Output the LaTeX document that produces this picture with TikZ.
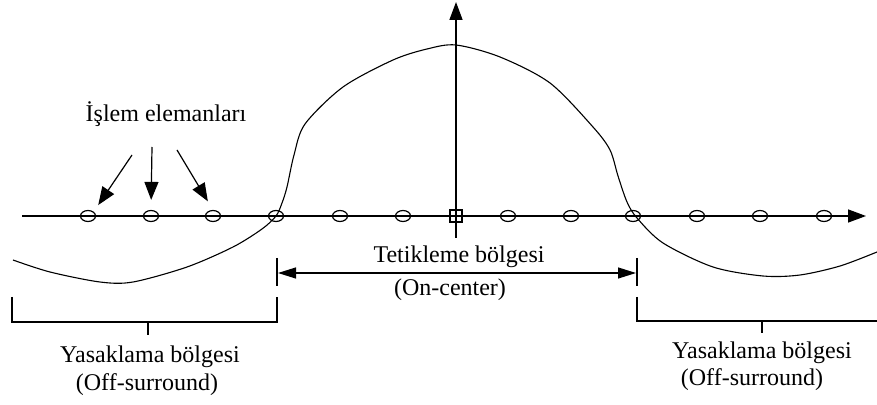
\documentclass[tikz,border=0pt]{standalone}
\usepackage{fontspec}
\setmainfont{Liberation Serif}
\usetikzlibrary{arrows.meta,shapes.geometric}
\tikzset{
  px/.style={x=0.5pt,y=-0.5pt},
  axisline/.style={line width=0.75pt},
  curveline/.style={line width=0.55pt},
  elem/.style={draw,ellipse,line width=0.6pt,minimum width=7.5pt,minimum height=5.5pt,inner sep=0pt},
  celem/.style={draw,rectangle,line width=0.6pt,minimum width=6pt,minimum height=6pt,inner sep=0pt},
  lbl/.style={inner sep=0pt,font=\fontsize{12}{14}\selectfont},
  bigtip/.style={-{Triangle[length=9pt,width=6.5pt]}},
  ptr/.style={line width=0.6pt,-{Triangle[length=9pt,width=7pt]}},
  dbl/.style={line width=0.6pt,{Triangle[length=9pt,width=5.5pt]}-{Triangle[length=9pt,width=5.5pt]}},
  brk/.style={line width=0.6pt}
}
\begin{document}
\begin{tikzpicture}[px]
\useasboundingbox (0,0) rectangle (877,405);
% axes
\coordinate (xs) at (22,216);
\coordinate (xe) at (866,216);
\coordinate (ys) at (456,238);
\coordinate (ye) at (456,2);
\draw[axisline,bigtip] (xs) -- (xe);
\draw[axisline,bigtip] (ys) -- (ye);
% curve
\draw[curveline] plot[smooth,tension=0.5] coordinates {
 (13,260) (50,272) (100,282) (133,282) (187,267) (233,247) (262,229) (276,216)
 (282,203) (287,187) (294,155) (305,124) (343,87) (393,60) (427,49) (456,45)
 (500,57) (550,83) (593,127) (610,150) (618,176) (627,202) (637,218) (663,243)
 (713,267) (763,276) (800,275) (840,266) (877,252)};
% processing elements
\foreach \i/\x in {1/88,2/151,3/213,4/276,5/340,6/403,8/508,9/571,10/633,11/697,12/760,13/824}
  \node[elem] (c\i) at (\x,216) {};
\node[celem] (c7) at (456,216) {};
% label and pointers
\node[lbl] (ie) at (166,114) {İşlem elemanları};
\coordinate (p1) at (132,155);
\coordinate (p2) at (152,147);
\coordinate (p3) at (177,150);
\draw[ptr,shorten >=4pt] (p1) -- (c1.north east);
\draw[ptr,shorten >=5pt] (p2) -- (c2.north);
\draw[ptr,shorten >=5pt] (p3) -- (c3.north);
% on-center range
\coordinate (tl1) at (277,258);
\coordinate (tl2) at (277,286);
\coordinate (tr1) at (637,258);
\coordinate (tr2) at (637,286);
\coordinate (al) at (278,273);
\coordinate (ar) at (636,273);
\draw[brk] (tl1) -- (tl2);
\draw[brk] (tr1) -- (tr2);
\draw[dbl] (al) -- (ar);
\node[lbl] (tb) at (459,257) {Tetikleme bölgesi};
\node[lbl] (oc) at (450,290) {(On-center)};
% left off-surround bracket
\coordinate (lb1) at (12,297);
\coordinate (lb2) at (12,322);
\coordinate (lb3) at (277,322);
\coordinate (lb4) at (277,297);
\coordinate (lt1) at (148,322);
\coordinate (lt2) at (148,335);
\draw[brk] (lb1) -- (lb2) -- (lb3) -- (lb4);
\draw[brk] (lt1) -- (lt2);
\node[lbl] (ly) at (150,357) {Yasaklama bölgesi};
\node[lbl] (lo) at (147,385) {(Off-surround)};
% right off-surround bracket
\coordinate (rb1) at (637,297);
\coordinate (rb2) at (637,321);
\coordinate (rb3) at (877,321);
\coordinate (rt1) at (762,321);
\coordinate (rt2) at (762,333);
\draw[brk] (rb1) -- (rb2) -- (rb3);
\draw[brk] (rt1) -- (rt2);
\node[lbl] (ry) at (762,353) {Yasaklama bölgesi};
\node[lbl] (ro) at (752,380) {(Off-surround)};
\end{tikzpicture}
\end{document}
